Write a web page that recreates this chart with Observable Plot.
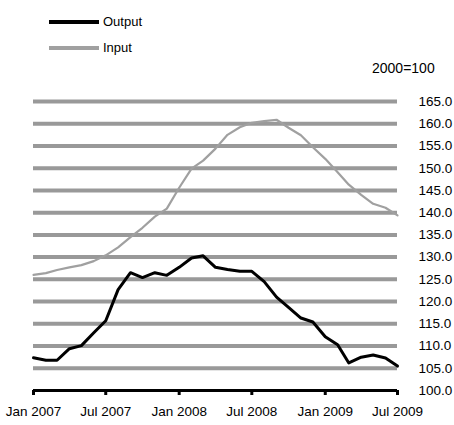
<!DOCTYPE html>
<html>
<head>
<meta charset="utf-8">
<script src="https://cdn.jsdelivr.net/npm/d3@7"></script>
<script src="https://cdn.jsdelivr.net/npm/@observablehq/plot@0.6"></script>
<style>
  html, body { margin: 0; padding: 0; background: #fff; }
  body { width: 454px; height: 425px; overflow: hidden; font-family: "Liberation Sans", Arial, sans-serif; }
  #legend { position: relative; height: 80px; font-size: 13px; color: #000; }
  .sw { position: absolute; left: 49px; width: 50px; height: 4px; }
  .lab { position: absolute; left: 103px; line-height: 16px; }
  #unit { position: absolute; left: 372px; top: 60px; font-size: 14px; line-height: 16px; }
</style>
</head>
<body>
<div id="legend">
  <div class="sw" style="top:20px;background:#000"></div>
  <div class="lab" style="top:14px">Output</div>
  <div class="sw" style="top:46px;background:#a0a0a0"></div>
  <div class="lab" style="top:40px">Input</div>
  <div id="unit">2000=100</div>
</div>
<div id="chart"></div>
<script>
const startMonth = "2007-01-01";
const output = [107.35, 106.8, 106.8, 109.4, 110.1, 113.0, 115.7, 122.7, 126.5, 125.4, 126.5, 125.9,
  127.7, 129.8, 130.3, 127.7, 127.2, 126.8, 126.8, 124.5, 121.0, 118.7, 116.3, 115.4,
  112.1, 110.3, 106.2, 107.5, 108.0, 107.3, 105.5];
const input = [126.0, 126.4, 127.1, 127.7, 128.2, 129.1, 130.4, 132.2, 134.5, 136.6, 139.1, 140.9,
  145.6, 149.9, 151.7, 154.4, 157.5, 159.2, 160.2, 160.6, 160.9, 159.1, 157.4, 154.7,
  152.1, 149.1, 146.3, 144.0, 142.0, 141.1, 139.4];
const yTicks = [100, 105, 110, 115, 120, 125, 130, 135, 140, 145, 150, 155, 160, 165];
const seriesNames = ["Output", "Input"];

const months = output.map((_, i) => d3.utcMonth.offset(new Date(startMonth), i));
const outRows = months.map((d, i) => ({date: d, value: output[i], series: seriesNames[0]}));
const inRows = months.map((d, i) => ({date: d, value: input[i], series: seriesNames[1]}));
const xTicks = d3.utcMonth.every(6).range(months[0], d3.utcDay.offset(months[months.length - 1], 1));

const chart = Plot.plot({
  width: 454,
  height: 345,
  marginLeft: 33,
  marginRight: 57,
  marginTop: 21,
  marginBottom: 35,
  style: {fontFamily: "Liberation Sans, Arial, sans-serif", fontSize: "13.5px", color: "#000", background: "#fff"},
  x: {type: "utc", domain: [months[0], months[months.length - 1]]},
  y: {domain: [100, 165]},
  marks: [
    Plot.ruleY(yTicks.filter(d => d > 100), {stroke: "#999", strokeWidth: 4}),
    Plot.line(inRows, {x: "date", y: "value", stroke: "#a0a0a0", strokeWidth: 2.2}),
    Plot.line(outRows, {x: "date", y: "value", stroke: "#000", strokeWidth: 3}),
    Plot.ruleY([100], {stroke: "#000", strokeWidth: 3}),
    Plot.axisX({ticks: xTicks, tickFormat: d3.utcFormat("%b %Y"), tickSize: 5, tickPadding: 11,
      stroke: "#000", strokeWidth: 3, fontSize: 13.5, label: null}),
    Plot.axisY({anchor: "right", ticks: yTicks, tickFormat: d3.format(".1f"), tickSize: 0,
      tickPadding: 21, fontSize: 13.5, label: null})
  ]
});
document.getElementById("chart").appendChild(chart);
</script>
</body>
</html>
